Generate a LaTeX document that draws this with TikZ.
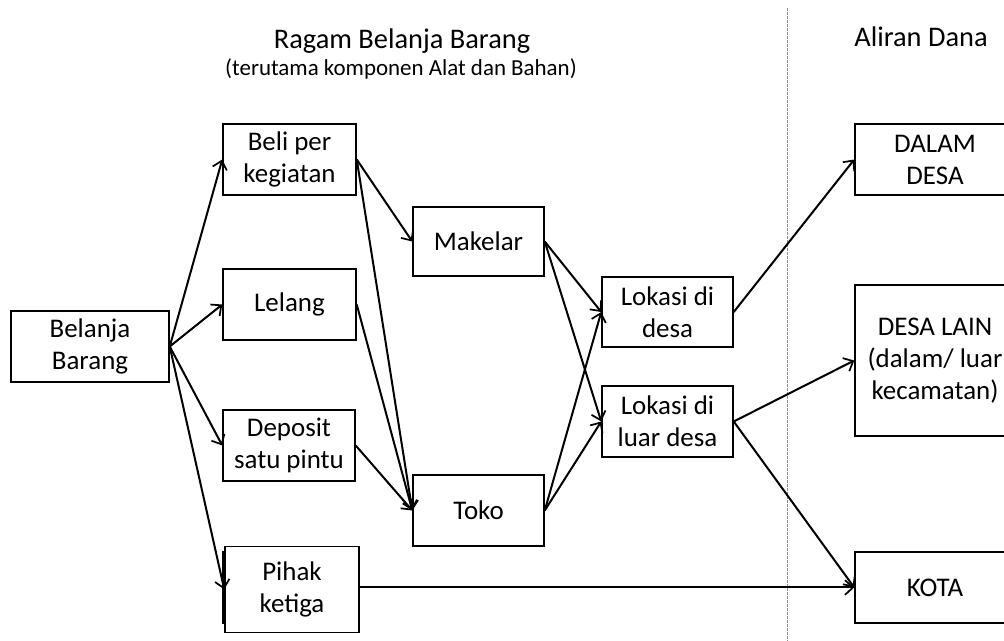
\documentclass[tikz,border=0pt]{standalone}
\usepackage{fontspec}
\setmainfont{Carlito}
\usetikzlibrary{arrows.meta}

\begin{document}
\begin{tikzpicture}[x=0.75pt,y=-0.75pt,
  kotak/.style={draw=black, line width=1.1pt, fill=white, align=center, inner sep=0pt,
    font=\fontsize{20.2}{24}\selectfont},
  judulteks/.style={font=\fontsize{21.3}{25}\selectfont},
  panah/.style={line width=1.5pt, -{Straight Barb[length=6pt, width=11pt, line width=1.3pt]}}]
\clip (0,0) rectangle (1004,641);
\fill[white] (0,0) rectangle (1004,641);
\draw[black!45, line width=0.6pt, dash pattern=on 2pt off 1pt] (787,8) -- (787,641);
\node[judulteks] (judul) at (402,41) {Ragam Belanja Barang};
\node[font=\fontsize{17.2}{20}\selectfont] (subjudul) at (401,69) {(terutama komponen Alat dan Bahan)};
\node[judulteks] (aliran) at (921,37) {Aliran Dana};
\node[kotak, minimum width=118.5pt, minimum height=53.25pt] (belanja) at (90,346.5) {Belanja\\Barang};
\node[kotak, minimum width=99.75pt, minimum height=53.25pt] (beli) at (289.5,159.5) {Beli per\\kegiatan};
\node[kotak, minimum width=99.75pt, minimum height=53.25pt] (lelang) at (289.5,304.5) {Lelang};
\node[kotak, minimum width=99pt, minimum height=53.25pt] (deposit) at (289,445.5) {Deposit\\satu pintu};
\draw[line width=1.1pt] (223,552) rectangle (357,623);
\node[kotak, minimum width=100.5pt, minimum height=64.5pt] (pihak) at (292,589.5) {Pihak\\ketiga};
\node[kotak, minimum width=98.25pt, minimum height=51.75pt] (makelar) at (478.5,241.5) {Makelar};
\node[kotak, minimum width=98.25pt, minimum height=53.25pt] (toko) at (478.5,510.5) {Toko};
\node[kotak, minimum width=98.25pt, minimum height=52.5pt] (lokdesa) at (667.5,312) {Lokasi di\\desa};
\node[kotak, minimum width=98.25pt, minimum height=53.25pt] (lokluar) at (667.5,421.5) {Lokasi di\\luar desa};
\node[kotak, minimum width=120pt, minimum height=53.25pt] (dalam) at (935,159.5) {DALAM\\DESA};
\node[kotak, minimum width=120pt, minimum height=113.25pt] (lain) at (935,360.5) {DESA LAIN\\(dalam/ luar\\kecamatan)};
\node[kotak, minimum width=120pt, minimum height=53.25pt] (kota) at (935,587.5) {KOTA};
\draw[panah] (belanja.east) -- (beli.west);
\draw[panah] (belanja.east) -- (lelang.west);
\draw[panah] (belanja.east) -- (deposit.west);
\draw[panah] (belanja.east) -- (pihak.west);
\draw[panah] (beli.east) -- (makelar.west);
\draw[panah] (beli.east) -- (toko.west);
\draw[panah] (lelang.east) -- (toko.west);
\draw[panah] (deposit.east) -- (toko.west);
\draw[panah] (makelar.east) -- (lokdesa.west);
\draw[panah] (makelar.east) -- (lokluar.west);
\draw[panah] (toko.east) -- (lokdesa.west);
\draw[panah] (toko.east) -- (lokluar.west);
\draw[panah] (lokdesa.east) -- (dalam.west);
\draw[panah] (lokluar.east) -- (lain.west);
\draw[panah] (lokluar.east) -- (kota.west);
\draw[panah] (pihak.east |- kota.west) -- (kota.west);
\end{tikzpicture}
\end{document}
